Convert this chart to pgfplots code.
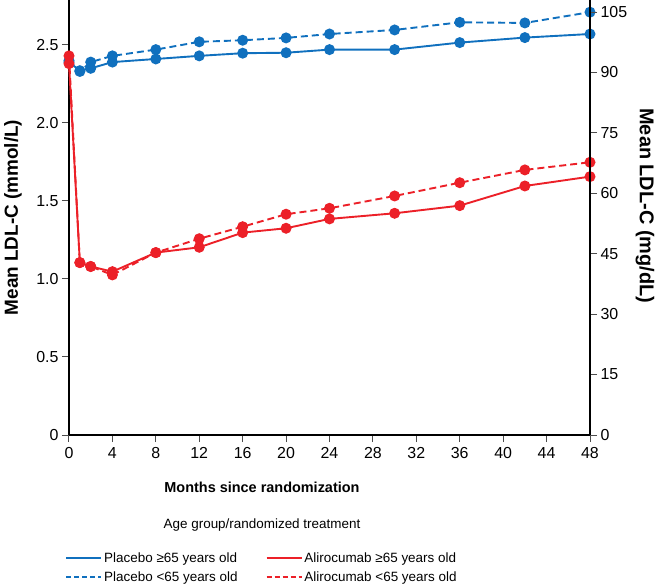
\documentclass[border=0pt]{standalone}
\usepackage{fontspec}
\setmainfont{Liberation Sans}
\usepackage{pgfplots}
\pgfplotsset{compat=1.18}
\definecolor{pblue}{RGB}{16,112,190}
\definecolor{ared}{RGB}{236,32,40}
\begin{document}
\begin{tikzpicture}
\begin{axis}[
  at={(0,0)}, anchor=south west,
  scale only axis, width=521bp, height=435bp,
  xmin=0, xmax=48, ymin=0, ymax=2.788,
  clip=false,
  axis x line*=bottom, axis y line*=left,
  axis line style={line width=1.8bp, -},
  xtick={0,4,...,48},
  ytick={0,0.5,1,1.5,2,2.5},
  yticklabels={0,0.5,1.0,1.5,2.0,2.5},
  tick align=outside,
  major tick length=7bp,
  minor tick num=0,
  tick style={gray!60!black, line width=1bp},
  ticklabel style={font=\fontsize{16}{18}\selectfont},
  xticklabel style={yshift=-2bp},
  /pgf/number format/assume math mode=true,
  xlabel={Months since randomization},
  xlabel style={font=\bfseries\fontsize{14.5}{17}\selectfont, at={(axis description cs:0.3704,-0.1195)}, anchor=center},
  ylabel={Mean LDL-C (mmol/L)},
  ylabel style={font=\bfseries\fontsize{19}{21}\selectfont, at={(axis description cs:-0.1075,0.5)}, anchor=center},
  legend style={at={(axis description cs:0.3704,-0.26)}, anchor=north, draw=none, fill=none,
    font=\fontsize{13.5}{16}\selectfont, /tikz/every even column/.append style={column sep=26bp}, row sep=4bp},
  legend columns=2,
  legend cell align=left,
  legend image code/.code={\draw[#1] (0bp,0bp) -- (35bp,0bp);},
]
\addlegendimage{pblue, line width=1.8bp}
\addlegendentry{Placebo ≥65 years old}
\addlegendimage{ared, line width=1.8bp}
\addlegendentry{Alirocumab ≥65 years old}
\addlegendimage{pblue, line width=1.8bp, dash pattern=on 5bp off 3bp}
\addlegendentry{Placebo <65 years old}
\addlegendimage{ared, line width=1.8bp, dash pattern=on 5bp off 3bp}
\addlegendentry{Alirocumab <65 years old}

% Placebo <65 (dashed)
\addplot[forget plot, pblue, line width=1.9bp, dash pattern=on 7bp off 4bp, mark=*, mark size=4.5bp, mark options={solid}]
coordinates {(0,2.40)(1,2.33)(2,2.39)(4,2.43)(8,2.47)(12,2.52)(16,2.53)(20,2.545)(24,2.57)(30,2.596)(36,2.645)(42,2.641)(48,2.71)};
% Placebo >=65 (solid)
\addplot[forget plot, pblue, line width=1.9bp, mark=*, mark size=4.5bp]
coordinates {(0,2.39)(1,2.335)(2,2.35)(4,2.39)(8,2.41)(12,2.43)(16,2.447)(20,2.45)(24,2.47)(30,2.47)(36,2.515)(42,2.547)(48,2.57)};
% Alirocumab <65 (dashed)
\addplot[forget plot, ared, line width=1.9bp, dash pattern=on 7bp off 4bp, mark=*, mark size=4.5bp, mark options={solid}]
coordinates {(0,2.43)(1,1.105)(2,1.08)(4,1.026)(8,1.169)(12,1.258)(16,1.335)(20,1.415)(24,1.453)(30,1.532)(36,1.617)(42,1.699)(48,1.748)};
% Alirocumab >=65 (solid)
\addplot[forget plot, ared, line width=1.9bp, mark=*, mark size=4.5bp]
coordinates {(0,2.38)(1,1.105)(2,1.08)(4,1.047)(8,1.169)(12,1.203)(16,1.297)(20,1.325)(24,1.385)(30,1.421)(36,1.47)(42,1.596)(48,1.656)};

\node[font=\fontsize{13.5}{16}\selectfont] at (axis description cs:0.3704,-0.207) {Age group/randomized treatment};
\end{axis}
\begin{axis}[
  at={(0,0)}, anchor=south west,
  scale only axis, width=521bp, height=435bp,
  xmin=0, xmax=48, ymin=0, ymax=108,
  axis x line=none, axis y line*=right,
  axis line style={line width=1.8bp, -},
  ytick={0,15,...,105},
  tick align=outside,
  major tick length=7bp,
  tick style={gray!60!black, line width=1bp},
  ticklabel style={font=\fontsize{16}{18}\selectfont},
  /pgf/number format/assume math mode=true,
  ylabel={Mean LDL-C (mg/dL)},
  ylabel style={font=\bfseries\fontsize{20}{22}\selectfont, at={(axis description cs:1.1056,0.527)}, anchor=center, rotate=180},
]
\end{axis}
\pgfresetboundingbox
\useasboundingbox (-69bp,-153bp) rectangle (588bp,435bp);
\end{tikzpicture}
\end{document}
